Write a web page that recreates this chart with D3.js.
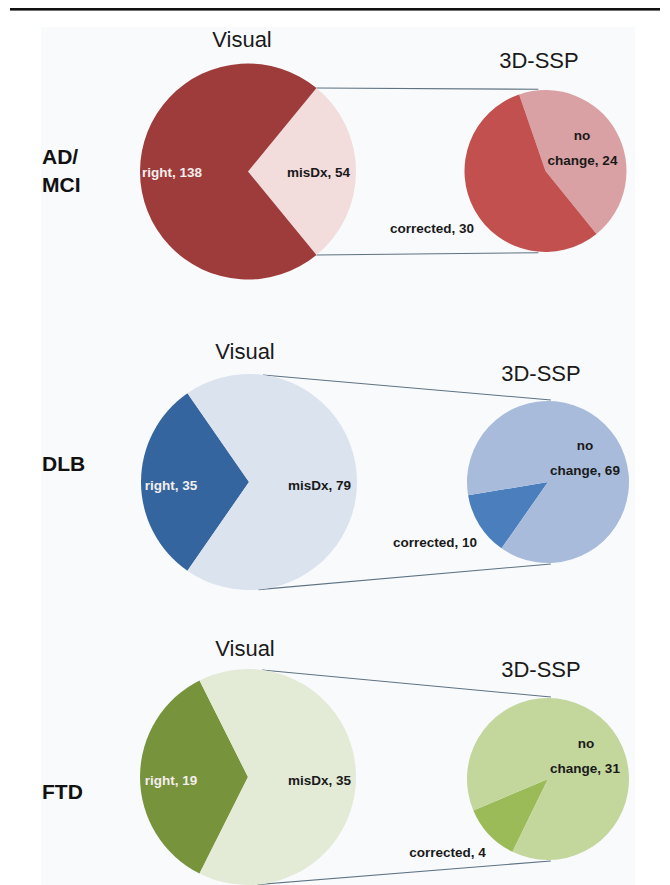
<!DOCTYPE html>
<html>
<head>
<meta charset="utf-8">
<script src="https://cdn.jsdelivr.net/npm/d3@7"></script>
<style>
  html, body { margin: 0; padding: 0; background: #ffffff; }
  svg { display: block; }
  text { font-family: "Liberation Sans", Arial, Helvetica, sans-serif; }
</style>
</head>
<body>
<svg id="chart" width="670" height="885"></svg>
<script>
// Diagnostic groups and counts
const groups = ["AD/MCI", "DLB", "FTD"];
const groupLines = [["AD/", "MCI"], ["DLB"], ["FTD"]];
const visualRight = [138, 35, 19];
const visualMisDx = [54, 79, 35];
const sspCorrected = [30, 10, 4];
const sspNoChange = [24, 69, 31];

// Palette per group: [visual right, visual misDx, 3D-SSP corrected, 3D-SSP no change]
const palette = [
  ["#9e3b3b", "#f2dcdc", "#c1504e", "#d9a1a3"],
  ["#35659e", "#dbe3ef", "#4a7ebd", "#a8bbdb"],
  ["#77933c", "#e3ebd7", "#9bbb58", "#c3d69c"]
];

// Layout for each row
const rows = [
  { vx: 248, vy: 171.5, sx: 545.5, sy: 171, visTitleY: 47, sspTitleY: 68, labelY: [164, 192],
    misDxAtEast: true, sspStartDeg: -19, sspOrder: "noChangeFirst",
    lab: { right: [172, 177], misDx: [318.5, 177], no: [582, 140], change: [582.5, 165], corr: [432, 233] } },
  { vx: 249, vy: 482, sx: 548, sy: 482, visTitleY: 359, sspTitleY: 381, labelY: [471],
    misDxAtEast: false, sspStartDeg: 215, sspOrder: "correctedFirst",
    lab: { right: [171, 490], misDx: [319.5, 490], no: [585, 450], change: [585, 475], corr: [435, 547] } },
  { vx: 248, vy: 777, sx: 548, sy: 779, visTitleY: 656, sspTitleY: 677, labelY: [799],
    misDxAtEast: false, sspStartDeg: 206, sspOrder: "correctedFirst",
    lab: { right: [171, 785], misDx: [319.5, 785], no: [586, 748], change: [585, 773], corr: [447.5, 857] } }
];

const rVis = 108, rSsp = 81;
const svg = d3.select("#chart");

// Page rule and light panel
svg.append("rect").attr("x", 41).attr("y", 27).attr("width", 594).attr("height", 858).attr("fill", "#f9fafc");
svg.append("rect").attr("x", 10).attr("y", 8).attr("width", 650).attr("height", 2.6).attr("fill", "#111");

const rad = d => d * Math.PI / 180;
const arcVis = d3.arc().innerRadius(0).outerRadius(rVis);
const arcSsp = d3.arc().innerRadius(0).outerRadius(rSsp);
const pt = (cx, cy, r, a) => [cx + r * Math.sin(a), cy - r * Math.cos(a)];

groups.forEach((name, i) => {
  const row = rows[i];
  const col = palette[i];
  const total = visualRight[i] + visualMisDx[i];

  // Visual pie
  let visData, visStart;
  if (row.misDxAtEast) {
    const half = Math.PI * visualMisDx[i] / total;
    visData = [{ k: "misDx", v: visualMisDx[i] }, { k: "right", v: visualRight[i] }];
    visStart = Math.PI / 2 - half;
  } else {
    const half = Math.PI * visualRight[i] / total;
    visData = [{ k: "right", v: visualRight[i] }, { k: "misDx", v: visualMisDx[i] }];
    visStart = 3 * Math.PI / 2 - half;
  }
  const visArcs = d3.pie().sort(null).value(d => d.v)
    .startAngle(visStart).endAngle(visStart + 2 * Math.PI)(visData);

  // Connector lines from Visual pie to 3D-SSP pie
  let topA, botA;
  if (row.misDxAtEast) {
    const m = visArcs.find(a => a.data.k === "misDx");
    topA = m.startAngle; botA = m.endAngle;
  } else {
    topA = rad(7.5); botA = rad(175);
  }
  const p1 = pt(row.vx, row.vy, rVis, topA), p2 = pt(row.vx, row.vy, rVis, botA);
  const q1 = pt(row.sx, row.sy, rSsp + 1, rad(i === 0 ? -5 : 2));
  const q2 = pt(row.sx, row.sy, rSsp + 1, rad(i === 0 ? 185 : 178));
  [[p1, q1], [p2, q2]].forEach(([a, b]) => {
    svg.append("line").attr("x1", a[0]).attr("y1", a[1]).attr("x2", b[0]).attr("y2", b[1])
      .attr("stroke", "#5d7282").attr("stroke-width", 1.1);
  });

  const gv = svg.append("g").attr("transform", `translate(${row.vx},${row.vy})`);
  gv.selectAll("path").data(visArcs).join("path")
    .attr("d", arcVis)
    .attr("fill", d => d.data.k === "right" ? col[0] : col[1]);

  // 3D-SSP pie
  const sspData = row.sspOrder === "noChangeFirst"
    ? [{ k: "no", v: sspNoChange[i] }, { k: "corr", v: sspCorrected[i] }]
    : [{ k: "corr", v: sspCorrected[i] }, { k: "no", v: sspNoChange[i] }];
  const s0 = rad(row.sspStartDeg);
  const sspArcs = d3.pie().sort(null).value(d => d.v).startAngle(s0).endAngle(s0 + 2 * Math.PI)(sspData);
  const gs = svg.append("g").attr("transform", `translate(${row.sx},${row.sy})`);
  gs.selectAll("path").data(sspArcs).join("path")
    .attr("d", arcSsp)
    .attr("fill", d => d.data.k === "corr" ? col[2] : col[3]);

  // Titles
  svg.append("text").attr("x", i === 0 ? 242 : 245).attr("y", row.visTitleY)
    .attr("text-anchor", "middle").attr("font-size", 22).attr("fill", "#1a1a1a").text("Visual");
  svg.append("text").attr("x", i === 0 ? 539 : 541).attr("y", row.sspTitleY)
    .attr("text-anchor", "middle").attr("font-size", 22).attr("fill", "#1a1a1a").text("3D-SSP");

  // Group label
  groupLines[i].forEach((ln, j) => {
    svg.append("text").attr("x", 42).attr("y", row.labelY[j])
      .attr("font-size", 21).attr("font-weight", "bold").attr("fill", "#111").text(ln);
  });

  // Slice labels
  const lab = (xy, txt, fill) => svg.append("text").attr("x", xy[0]).attr("y", xy[1])
    .attr("text-anchor", "middle").attr("font-size", 13.5).attr("font-weight", "bold")
    .attr("fill", fill).text(txt);
  lab(row.lab.right, `right, ${visualRight[i]}`, "#f4eeee");
  lab(row.lab.misDx, `misDx, ${visualMisDx[i]}`, "#1a1a1a");
  lab(row.lab.no, "no", "#1a1a1a");
  lab(row.lab.change, `change, ${sspNoChange[i]}`, "#1a1a1a");
  lab(row.lab.corr, `corrected, ${sspCorrected[i]}`, "#1a1a1a");
});
</script>
</body>
</html>
